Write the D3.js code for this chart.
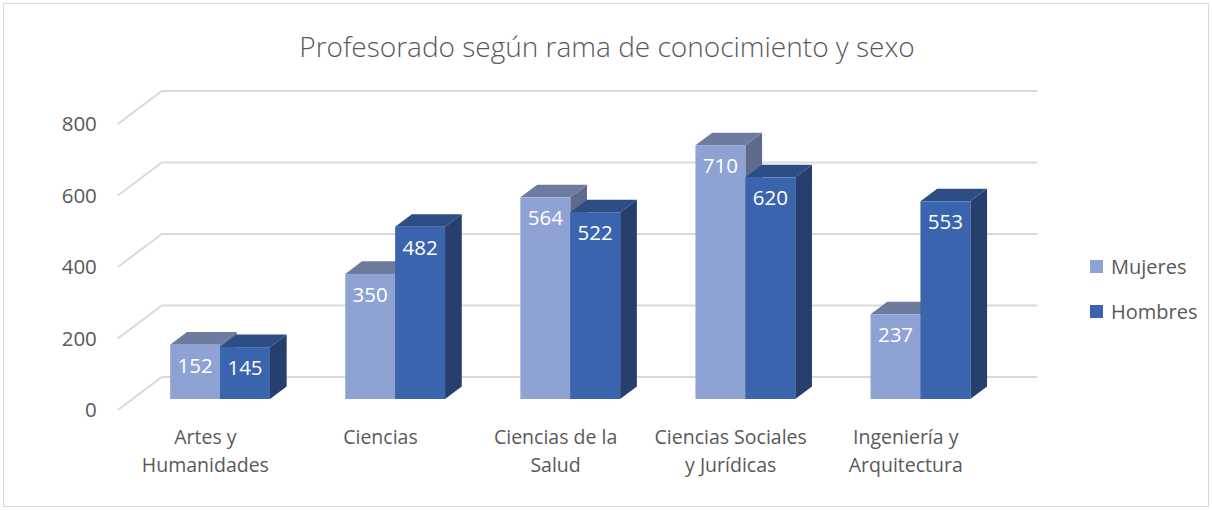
<!DOCTYPE html>
<html>
<head>
<meta charset="utf-8">
<script src="https://cdn.jsdelivr.net/npm/d3@7"></script>
<style>
  body { margin: 0; background: #fff; }
  svg { display: block; font-family: "Open Sans", "Noto Sans", sans-serif; }
</style>
</head>
<body>
<div id="chart"></div>
<script>
// datos
const categorias = ["Artes y\nHumanidades", "Ciencias", "Ciencias de la\nSalud", "Ciencias Sociales\ny Jurídicas", "Ingeniería y\nArquitectura"];
const series = ["Mujeres", "Hombres"];
const mujeres = [152, 350, 564, 710, 237];
const hombres = [145, 482, 522, 620, 553];
const ticks = [0, 200, 400, 600, 800];

const width = 1212, height = 510;

// colores (frente, arriba, lado)
const colores = {
  Mujeres: { front: "#8FA2D4", top: "#6D7C9E", side: "#5E6B8C" },
  Hombres: { front: "#3A64AE", top: "#2D4D86", side: "#263F6C" }
};

const svg = d3.select("#chart").append("svg")
  .attr("width", width)
  .attr("height", height);

// borde del área del gráfico
svg.append("rect")
  .attr("x", 3.5).attr("y", 3.5)
  .attr("width", width - 7).attr("height", height - 7)
  .attr("fill", "#fff")
  .attr("stroke", "#D9D9D9");

// titulo
svg.append("text")
  .attr("x", 607).attr("y", 57)
  .attr("text-anchor", "middle")
  .attr("font-size", 28)
  .attr("font-weight", 300)
  .attr("fill", "#595959")
  .text("Profesorado según rama de conocimiento y sexo");

// escalas (plano frontal de las barras)
const x0 = d3.scaleBand().domain(d3.range(categorias.length)).range([132.5, 1008]).paddingInner(0.43).paddingOuter(0.215);
const x1 = d3.scaleBand().domain(series).range([0, x0.bandwidth()]);
const y = d3.scaleLinear().domain([0, 800]).range([399, 113]);

// profundidad oblicua: vector completo del suelo (frente -> fondo)
const depth = { dx: 44, dy: -33 };
const off = t => [depth.dx * t, depth.dy * t];
const tBar = 1 / 3;       // frente de la barra medido desde el borde frontal del suelo
const tBarDepth = 0.38;   // profundidad de la barra

const [wx, wy] = off(1 - tBar);      // hacia la pared del fondo
const [fx, fy] = off(-tBar);         // hacia el borde frontal del suelo

// lineas de la cuadricula
const grid = svg.append("g").attr("stroke", "#D9D9D9").attr("stroke-width", 2).attr("fill", "none");
ticks.forEach(t => {
  const xl = x0.range()[0], xr = x0.range()[1];
  grid.append("path")
    .attr("d", `M${xl + fx},${y(t) + fy}L${xl + wx},${y(t) + wy}L${xr + wx},${y(t) + wy}`);
});

// etiquetas del eje y
svg.append("g").selectAll("text")
  .data(ticks).join("text")
  .attr("x", x0.range()[0] + fx - 21)
  .attr("y", d => y(d) + fy)
  .attr("dy", "0.36em")
  .attr("text-anchor", "end")
  .attr("font-size", 20.5)
  .attr("fill", "#595959")
  .text(d => d);

// barras
const [bdx, bdy] = off(tBarDepth);
const datos = [];
categorias.forEach((c, i) => {
  datos.push({ cat: i, serie: "Mujeres", valor: mujeres[i] });
  datos.push({ cat: i, serie: "Hombres", valor: hombres[i] });
});

const barras = svg.append("g").selectAll("g")
  .data(datos).join("g");

barras.each(function(d) {
  const g = d3.select(this);
  const xa = x0(d.cat) + x1(d.serie), xb = xa + x1.bandwidth();
  const yt = y(d.valor), yb = y(0);
  const c = colores[d.serie];
  // lado derecho
  g.append("path")
    .attr("d", `M${xb},${yt}L${xb + bdx},${yt + bdy}L${xb + bdx},${yb + bdy}L${xb},${yb}Z`)
    .attr("fill", c.side);
  // cara superior
  g.append("path")
    .attr("d", `M${xa},${yt}L${xa + bdx},${yt + bdy}L${xb + bdx},${yt + bdy}L${xb},${yt}Z`)
    .attr("fill", c.top);
  // frente
  g.append("rect")
    .attr("x", xa).attr("y", yt)
    .attr("width", xb - xa).attr("height", yb - yt)
    .attr("fill", c.front);
  // etiqueta de datos
  g.append("text")
    .attr("x", (xa + xb) / 2)
    .attr("y", yt + 28)
    .attr("text-anchor", "middle")
    .attr("font-size", 20.5)
    .attr("fill", "#fff")
    .text(d.valor);
});

// etiquetas del eje x
svg.append("g").selectAll("text")
  .data(categorias).join("text")
  .attr("x", (d, i) => x0(i) + x0.bandwidth() / 2 + fx)
  .attr("y", 444)
  .attr("text-anchor", "middle")
  .attr("font-size", 19.5)
  .attr("fill", "#595959")
  .each(function(d) {
    const t = d3.select(this);
    d.split("\n").forEach((l, k) => {
      t.append("tspan")
        .attr("x", t.attr("x"))
        .attr("dy", k === 0 ? 0 : 28)
        .text(l);
    });
  });

// leyenda
const leyenda = svg.append("g").selectAll("g")
  .data(series).join("g")
  .attr("transform", (d, i) => `translate(1090,${260 + i * 45})`);
leyenda.append("rect")
  .attr("width", 13).attr("height", 13)
  .attr("fill", d => colores[d].front);
leyenda.append("text")
  .attr("x", 21).attr("y", 7)
  .attr("dy", "0.36em")
  .attr("font-size", 20)
  .attr("fill", "#595959")
  .text(d => d);
</script>
</body>
</html>
